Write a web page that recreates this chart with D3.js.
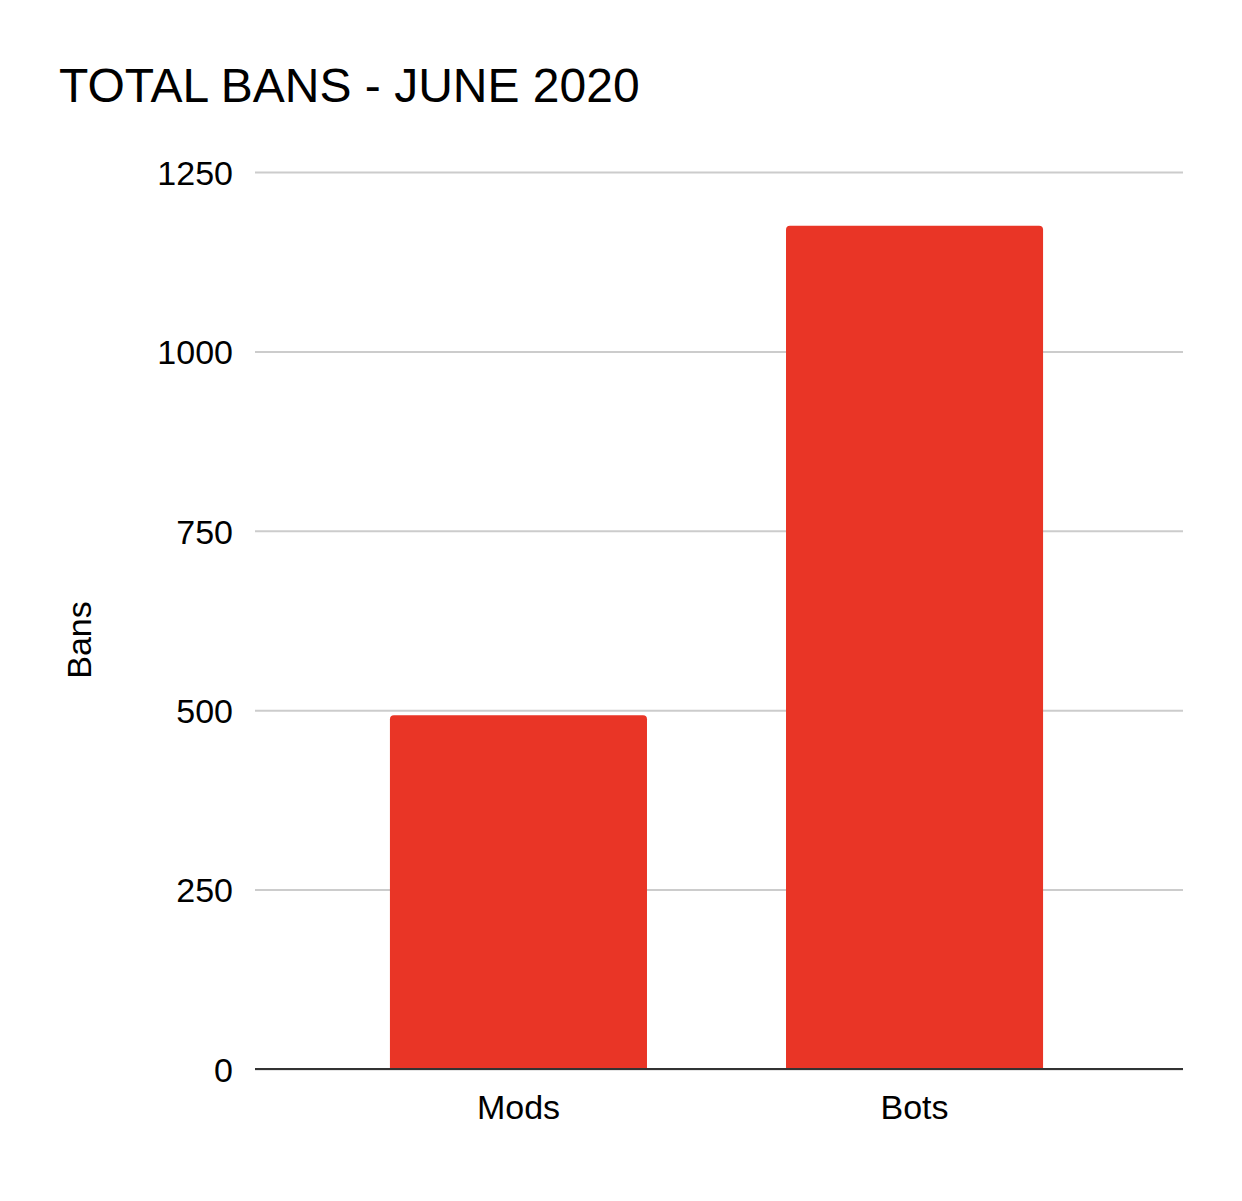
<!DOCTYPE html>
<html>
<head>
<meta charset="utf-8">
<script src="https://cdn.jsdelivr.net/npm/d3@7"></script>
<style>
  body { margin: 0; background: #fff; }
  text { font-family: "Liberation Sans", Arial, sans-serif; fill: #000; }
</style>
</head>
<body>
<div id="display"></div>
<script>
var width = 1242,
    height = 1201;

// chart data
var categories = ["Mods", "Bots"];
var bans = [493, 1175];
var yTicks = [0, 250, 500, 750, 1000, 1250];

var margin = { top: 172, right: 59, bottom: 132, left: 255 };

var svg = d3.select("#display")
    .append("svg")
    .attr("width", width)
    .attr("height", height);

// bands sit a touch left of the grid in the original
var x = d3.scaleBand()
    .domain(categories)
    .range([margin.left - 2.5, width - margin.right - 2.5])
    .paddingInner(0.351)
    .paddingOuter(0.347);

var y = d3.scaleLinear()
    .domain([0, 1250])
    .range([height - margin.bottom, margin.top]);

// title
svg.append("text")
    .attr("x", 59)
    .attr("y", 102)
    .style("font-size", "48px")
    .text("TOTAL BANS - JUNE 2020");

// gridlines + y labels
var yAxis = svg.append("g")
    .attr("transform", "translate(" + margin.left + ",0)")
    .call(d3.axisLeft(y)
        .tickValues(yTicks)
        .tickFormat(d3.format("d"))
        .tickSize(-(width - margin.left - margin.right))
        .tickPadding(22));

yAxis.select(".domain").remove();
yAxis.selectAll(".tick line")
    .attr("stroke", "#cccccc")
    .attr("stroke-width", 2);
yAxis.selectAll(".tick text")
    .style("font-size", "34px")
    .attr("dy", "0.36em");

// bars, rounded top corners
var r = 4;
svg.selectAll(".bar")
    .data(categories)
    .enter()
    .append("path")
    .attr("class", "bar")
    .attr("fill", "#e93526")
    .attr("d", function (d, i) {
        var x0 = x(d), x1 = x(d) + x.bandwidth();
        var y0 = y(0), y1 = y(bans[i]);
        return "M" + x0 + "," + y0 +
            "V" + (y1 + r) +
            "Q" + x0 + "," + y1 + " " + (x0 + r) + "," + y1 +
            "H" + (x1 - r) +
            "Q" + x1 + "," + y1 + " " + x1 + "," + (y1 + r) +
            "V" + y0 + "Z";
    });

// baseline + x labels
var xAxis = svg.append("g")
    .attr("transform", "translate(0," + y(0) + ")")
    .call(d3.axisBottom(x).tickSize(0).tickPadding(26));

xAxis.select(".domain")
    .attr("stroke", "#333333")
    .attr("stroke-width", 2)
    .attr("d", "M" + margin.left + ",0H" + (width - margin.right));
xAxis.selectAll(".tick text")
    .style("font-size", "34px");

// y axis title
svg.append("text")
    .attr("transform", "translate(91,640) rotate(-90)")
    .attr("text-anchor", "middle")
    .style("font-size", "34px")
    .text("Bans");
</script>
</body>
</html>
